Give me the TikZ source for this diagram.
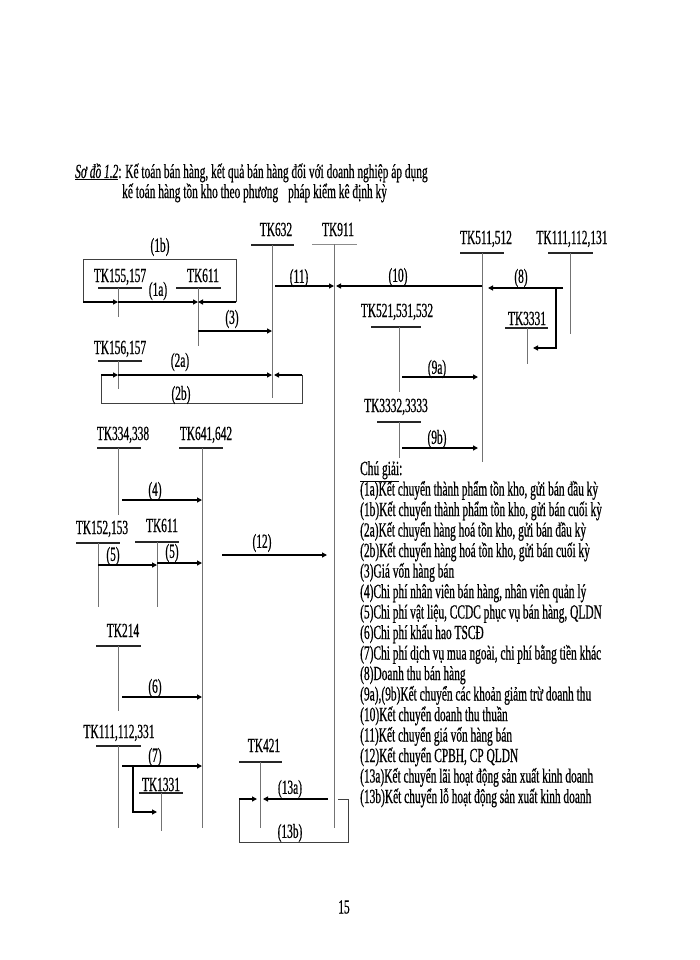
\documentclass[tikz,border=0pt]{standalone}
\usepackage{fontspec}
\setmainfont{Liberation Serif}[FakeStretch=0.57,FakeBold=0.6]
\usetikzlibrary{arrows.meta}
\newcommand\acct[9]{% id, label, lx, ly, ulx1, ulx2, uly, vx, vy2
  \node[tklabel] (#1) at (#3,#4+7) {#2};
  \draw[ulline] (#5,#7) -- (#6,#7);
  \coordinate (#1t) at (#8,#7);
  \coordinate (#1b) at (#8,#9);
  \draw[vline] (#1t) -- (#1b);}
\begin{document}
\begin{tikzpicture}[x=1pt,y=-1pt,
  txt/.style={inner sep=0pt,font=\fontsize{20}{21}\selectfont},
  tklabel/.style={txt,anchor=base},
  ulline/.style={line width=1.2pt,black!85},
  vline/.style={line width=0.8pt,black!55},
  arr/.style={line width=1.2pt,-{Triangle[length=5pt,width=5pt]}},
  boxline/.style={line width=1pt,black!75},
  num/.style={txt},
  leg/.style={txt,anchor=base west}]
\useasboundingbox[fill=white] (0,0) rectangle (700,960);

% title
\node[txt,anchor=base west] (title1) at (75,178) {\underline{\textit{Sơ đồ 1.2}}: Kế toán bán hàng, kết quả bán hàng đối với doanh nghiệp áp dụng};
\node[txt,anchor=base west] (title2) at (122,198) {kế toán hàng tồn kho theo phương\hspace{0.5em}pháp kiểm kê định kỳ};

% accounts
\acct{a632}{TK632}{276}{229}{251}{294}{245}{272}{398}
\node[tklabel] (a911) at (338,236) {TK911};
\draw[line width=1pt,black!45] (312,244) -- (357,244);
\coordinate (a911t) at (334,244);
\coordinate (a911b) at (334,828);
\draw[vline] (a911t) -- (a911b);
\acct{a155}{TK155,157}{120}{275}{98}{142}{288}{118}{317}
\acct{a611a}{TK611}{203}{275}{176}{221}{288}{198}{346}
\acct{a156}{TK156,157}{120}{347}{98}{142}{361}{118}{389}
\acct{a511}{TK511,512}{486}{237}{460}{504}{253}{482}{462}
\acct{a111}{TK111,112,131}{572}{237}{548}{593}{253}{570}{334}
\acct{a3331}{TK3331}{527}{318}{505}{548}{328}{527}{364}
\acct{a521}{TK521,531,532}{397}{310}{371}{421}{327}{399}{392}
\acct{a3332}{TK3332,3333}{396}{405}{377}{421}{422}{399}{458}
\acct{a334}{TK334,338}{123}{433}{97}{141}{448}{118}{515}
\acct{a641}{TK641,642}{206}{433}{179}{223}{448}{202}{828}
\acct{a152}{TK152,153}{102}{527}{76}{120}{543}{98}{607}
\acct{a611b}{TK611}{162}{525}{135}{179}{542}{157}{607}
\acct{a214}{TK214}{123}{630}{96}{141}{646}{118}{711}
\acct{a111b}{TK111,112,331}{119}{731}{96}{141}{746}{118}{828}
\acct{a1331}{TK1331}{161}{784}{139}{183}{793}{161}{831}
\acct{a421}{TK421}{264}{745}{239}{282}{762}{260}{828}

% (1a), (1b)
\draw[arr] (a155t |- 0,302) -- (a611at |- 0,302);
\draw[boxline] (236,302) -- (236,259) -- (83,259) -- (83,302);
\draw[arr] (83,302) -- (a155t |- 0,302);
\draw[arr] (236,302) -- (a611at |- 0,302);
\node[num] (n1a) at (158,291) {(1a)};
\node[num] (n1b) at (160,247) {(1b)};
% (3)
\draw[arr] (a611at |- 0,331) -- (a632t |- 0,331);
\node[num] (n3) at (232,319) {(3)};
% (11)
\draw[arr] (275,286) -- (a911t |- 0,286);
\node[num] (n11) at (299,278) {(11)};
% (10)
\draw[arr] (a511t |- 0,286) -- (336,286);
\node[num] (n10) at (398,277) {(10)};
% (8)
\draw[arr] (563,288) -- (488,288);
\draw[arr] (556,288) -- (556,348) -- (533,348);
\node[num] (n8) at (521,278) {(8)};
% (9a), (9b)
\draw[arr] (402,377) -- (478,377);
\node[num] (n9a) at (437,369) {(9a)};
\draw[arr] (402,448) -- (478,448);
\node[num] (n9b) at (437,439) {(9b)};
% (2a), (2b)
\draw[arr] (a156t |- 0,375) -- (a632t |- 0,375);
\draw[boxline] (302,375) -- (302,403) -- (101,403) -- (101,375);
\draw[arr] (101,375) -- (a156t |- 0,375);
\draw[arr] (302,375) -- (274,375);
\node[num] (n2a) at (180,362) {(2a)};
\node[num] (n2b) at (181,395) {(2b)};
% (4)
\draw[arr] (122,500) -- (a641t |- 0,500);
\node[num] (n4) at (155,491) {(4)};
% (5)
\draw[arr] (a152t |- 0,565) -- (a611bt |- 0,565);
\node[num] (n5a) at (113,556) {(5)};
\draw[arr] (a611bt |- 0,563) -- (a641t |- 0,563);
\node[num] (n5b) at (172,553) {(5)};
% (12)
\draw[arr] (222,555) -- (327,555);
\node[num] (n12) at (262,543) {(12)};
% (6)
\draw[arr] (122,697) -- (a641t |- 0,697);
\node[num] (n6) at (155,688) {(6)};
% (7)
\draw[arr] (122,766) -- (a641t |- 0,766);
\draw[arr] (133,766) -- (133,812) -- (157,812);
\node[num] (n7) at (155,757) {(7)};
% (13a), (13b)
\draw[arr] (328,799) -- (263,799);
\node[num] (n13a) at (290,789) {(13a)};
\draw[boxline] (338,799) -- (348,799) -- (348,842) -- (239,842) -- (239,799);
\draw[arr] (239,799) -- (257,799);
\node[num] (n13b) at (290,833) {(13b)};

% legend
\node[leg] (l0) at (360,475) {\underline{Chú giải}:};
\node[leg] (l1) at (360,495.5) {(1a)Kết chuyển thành phẩm tồn kho, gửi bán đầu kỳ};
\node[leg] (l2) at (360,516) {(1b)Kết chuyển thành phẩm tồn kho, gửi bán cuối kỳ};
\node[leg] (l3) at (360,536.5) {(2a)Kết chuyển hàng hoá tồn kho, gửi bán đầu kỳ};
\node[leg] (l4) at (360,557) {(2b)Kết chuyển hàng hoá tồn kho, gửi bán cuối kỳ};
\node[leg] (l5) at (360,577.5) {(3)Giá vốn hàng bán};
\node[leg] (l6) at (360,598) {(4)Chi phí nhân viên bán hàng, nhân viên quản lý};
\node[leg] (l7) at (360,618.5) {(5)Chi phí vật liệu, CCDC phục vụ bán hàng, QLDN};
\node[leg] (l8) at (360,639) {(6)Chi phí khấu hao TSCĐ};
\node[leg] (l9) at (360,659.5) {(7)Chi phí dịch vụ mua ngoài, chi phí bằng tiền khác};
\node[leg] (l10) at (360,680) {(8)Doanh thu bán hàng};
\node[leg] (l11) at (360,700.5) {(9a),(9b)Kết chuyển các khoản giảm trừ doanh thu};
\node[leg] (l12) at (360,721) {(10)Kết chuyển doanh thu thuần};
\node[leg] (l13) at (360,741.5) {(11)Kết chuyển giá vốn hàng bán};
\node[leg] (l14) at (360,762) {(12)Kết chuyển CPBH, CP QLDN};
\node[leg] (l15) at (360,782.5) {(13a)Kết chuyển lãi hoạt động sản xuất kinh doanh};
\node[leg] (l16) at (360,803) {(13b)Kết chuyển lỗ hoạt động sản xuất kinh doanh};

% page number
\node[txt] (pg) at (344,907) {15};
\end{tikzpicture}
\end{document}
